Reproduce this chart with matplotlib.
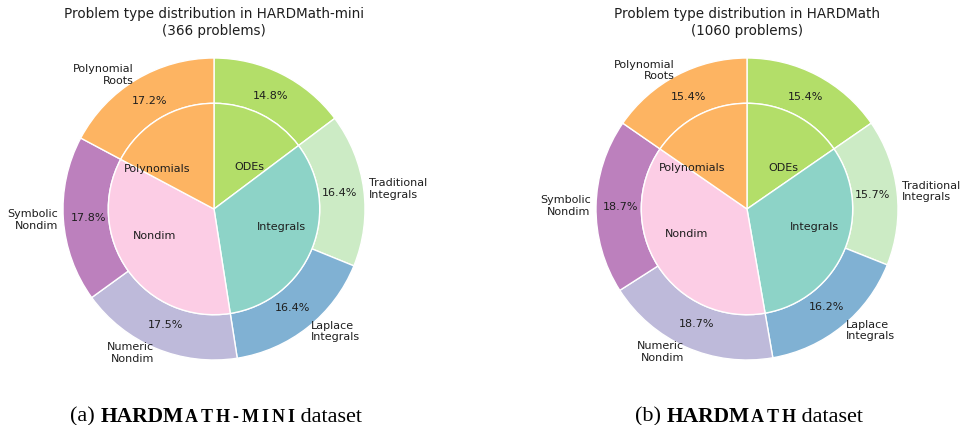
import matplotlib
matplotlib.use("Agg")
import matplotlib.pyplot as plt

# ---------------- data ----------------
outer_labels = ["", "Traditional\nIntegrals", "Laplace\nIntegrals",
                "Numeric\nNondim", "Symbolic\nNondim", "Polynomial\nRoots"]
inner_labels = ["ODEs", "Integrals", "Nondim", "Polynomials"]
# number of outer subcategories belonging to each inner category
inner_groups = [1, 2, 2, 1]

mini_counts = [54, 60, 60, 64, 65, 63]       # 366 problems
full_counts = [163, 166, 172, 198, 198, 163]  # 1060 problems

titles = ["Problem type distribution in HARDMath-mini",
          "Problem type distribution in HARDMath"]
captions = [("(a) ", "HARDM", "ATH-MINI", " dataset"),
            ("(b) ", "HARDM", "ATH", " dataset")]

outer_colors = ["#b3de69", "#ccebc5", "#80b1d3", "#bebada", "#bc80bd", "#fdb462"]
inner_colors = ["#b3de69", "#8dd3c7", "#fccde5", "#fdb462"]

# ---------------- layout ----------------
W, H = 961, 425
fig = plt.figure(figsize=(W / 100, H / 100), dpi=100)
R = 151          # outer radius in px
LIM = 1.4
TXT = "#1e1e1e"


def group_sums(vals, groups):
    out, i = [], 0
    for g in groups:
        out.append(sum(vals[i:i + g]))
        i += g
    return out


def draw_pie(cx, cy, counts, title):
    size = 2 * LIM * R
    ax = fig.add_axes([(cx - LIM * R) / W, (H - cy - LIM * R) / H, size / W, size / H])
    tp = dict(fontsize=8, color=TXT)
    ax.pie(counts, radius=1.0, labels=outer_labels, colors=outer_colors,
           autopct="%1.1f%%", pctdistance=0.835, labeldistance=1.035,
           startangle=90, counterclock=False,
           wedgeprops=dict(width=0.3, edgecolor="white", linewidth=1),
           textprops=tp)
    inner = group_sums(counts, inner_groups)
    ax.pie(inner, radius=0.7, labels=inner_labels, colors=inner_colors,
           labeldistance=0.44, startangle=90, counterclock=False,
           wedgeprops=dict(edgecolor="white", linewidth=1),
           textprops=tp)
    ax.set_xlim(-LIM, LIM)
    ax.set_ylim(-LIM, LIM)
    ax.set_aspect("equal")
    ax.axis("off")
    fig.text(cx / W, 1 - 22.5 / H, f"{title}\n({sum(counts)} problems)",
             ha="center", va="center", fontsize=9.75, color=TXT,
             linespacing=1.25)


SERIF = "Liberation Serif"
BASE_Y = (H - 421.5) / H
TRACK = 3.0  # px of extra spacing between the small-caps letters


def make_caption(parts):
    items = []  # (text artist, extra spacing after)
    t = fig.text(0, BASE_Y, parts[0], fontsize=16, family=SERIF,
                 va="baseline", ha="left", color="black")
    items.append((t, 0))
    t = fig.text(0, BASE_Y, parts[1], fontsize=15.5, family=SERIF,
                 fontweight="bold", va="baseline", ha="left", color="black")
    items.append((t, 1.0))
    sc = parts[2]
    for i, ch in enumerate(sc):
        t = fig.text(0, BASE_Y, ch, fontsize=13, family=SERIF,
                     fontweight="bold", va="baseline", ha="left", color="black")
        items.append((t, TRACK if i < len(sc) - 1 else 0.5))
    t = fig.text(0, BASE_Y, parts[3], fontsize=16, family=SERIF,
                 va="baseline", ha="left", color="black")
    items.append((t, 0))
    return items


caption_items = []
centers = [(214, 209), (747, 209)]
for (cx, cy), counts, title, parts in zip(centers, [mini_counts, full_counts],
                                          titles, captions):
    draw_pie(cx, cy, counts, title)
    caption_items.append((cx, make_caption(parts)))

fig.canvas.draw()
r = fig.canvas.get_renderer()
for cx, items in caption_items:
    widths = []
    for t, extra in items:
        w = t.get_window_extent(r).width
        widths.append(w + extra)
    total = sum(widths)
    x = cx + 2 - total / 2
    for (t, extra), w in zip(items, widths):
        t.set_x(x / W)
        x += w

fig.savefig("out.png", dpi=100)
